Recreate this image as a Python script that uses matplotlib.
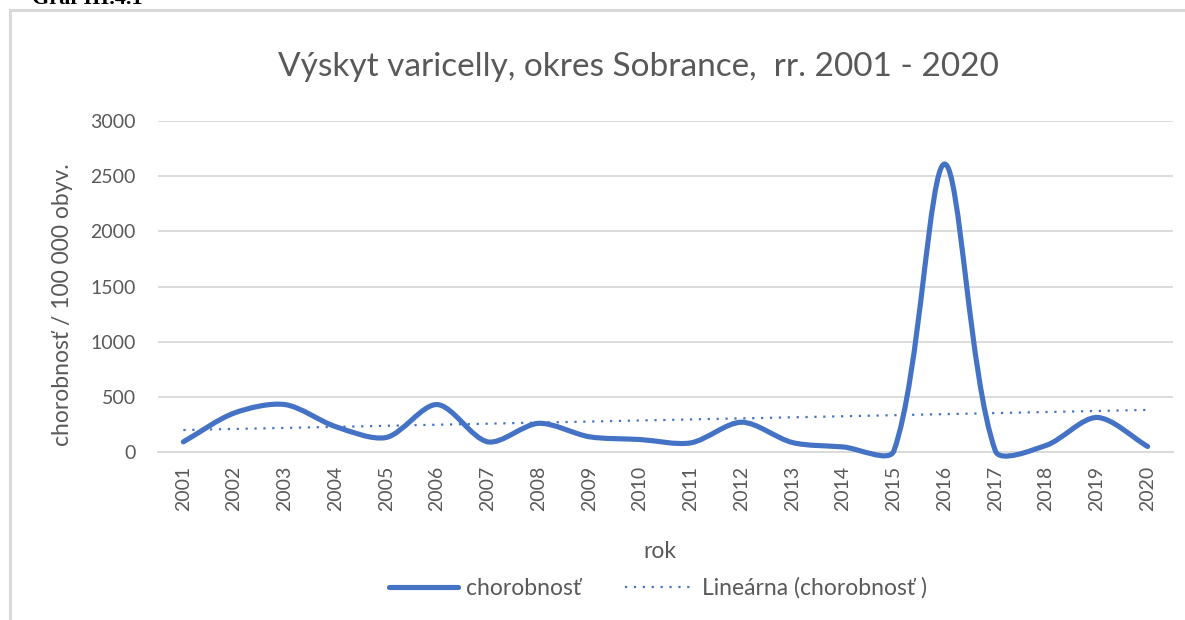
import matplotlib.pyplot as plt
import numpy as np
from matplotlib.path import Path
from matplotlib.patches import PathPatch
from matplotlib.lines import Line2D

years = [str(y) for y in range(2001, 2021)]
chorobnost = [92, 353, 430, 230, 132, 430, 92, 260, 138, 113,
              83, 270, 86, 46, 10, 2610, 10, 60, 313, 50]
y_ticks = [0, 500, 1000, 1500, 2000, 2500, 3000]

plt.rcParams['font.family'] = ['Lato', 'DejaVu Sans']
blue = '#4472C4'
gray = '#595959'

fig = plt.figure(figsize=(11.85, 6.2), dpi=100)
ax = fig.add_axes([158/1185, 1-452/620, 1015/1185, 331/620])

x = np.arange(len(years))
ax.set_xlim(-0.5, len(years) - 0.5)
ax.set_ylim(0, 3000)


def smooth_path(ax, xs, ys, k=0.3):
    # excel-like smoothed line, built in pixel space
    pts = ax.transData.transform(np.column_stack([xs, ys]))
    n = len(pts)
    verts = [pts[0]]
    codes = [Path.MOVETO]
    for i in range(n - 1):
        p0 = pts[i - 1] if i > 0 else pts[i]
        p1, p2 = pts[i], pts[i + 1]
        p3 = pts[i + 2] if i + 2 < n else pts[i + 1]
        d01 = np.hypot(*(p1 - p0))
        d12 = np.hypot(*(p2 - p1))
        d23 = np.hypot(*(p3 - p2))
        c1 = p1 + (p2 - p0) * k * d12 / (d01 + d12)
        c2 = p2 - (p3 - p1) * k * d12 / (d12 + d23)
        verts += [c1, c2, p2]
        codes += [Path.CURVE4] * 3
    inv = ax.transData.inverted()
    return Path(inv.transform(np.array(verts)), codes)


ax.add_patch(PathPatch(smooth_path(ax, x, chorobnost), fill=False,
                       edgecolor=blue, lw=3.7, capstyle='round',
                       joinstyle='round', clip_on=False, zorder=3))

coef = np.polyfit(x, chorobnost, 1)
trend = np.poly1d(coef)
ax.plot(x, trend(x), color=blue, lw=1.6, linestyle=(0, (1, 3)), zorder=2)

ax.set_yticks(y_ticks)
ax.set_xticks(x)
ax.set_xticklabels(years, rotation=90)
ax.tick_params(axis='both', length=0, labelsize=14, labelcolor=gray)
ax.tick_params(axis='y', pad=16)
ax.tick_params(axis='x', pad=10)
ax.grid(axis='y', color='#d9d9d9', lw=1.3)
ax.set_axisbelow(True)
for s in ['top', 'right', 'left']:
    ax.spines[s].set_visible(False)
ax.spines['bottom'].set_color('#d9d9d9')
ax.spines['bottom'].set_linewidth(1.3)

fig.text(638/1185, 1-67/620, 'Výskyt varicelly, okres Sobrance,  rr. 2001 - 2020',
         ha='center', va='center', fontsize=24, color=gray)
fig.text(63/1185, 1-305/620, 'chorobnosť / 100 000 obyv.', rotation=90,
         ha='center', va='center', fontsize=16.5, color=gray)
fig.text(660/1185, 1-551/620, 'rok', ha='center', va='center',
         fontsize=16.5, color=gray)

handles = [Line2D([], [], color=blue, lw=3.7, solid_capstyle='round'),
           Line2D([], [], color=blue, lw=1.6, linestyle=(0, (1, 3)))]
fig.legend(handles, ['chorobnosť', 'Lineárna (chorobnosť )'], ncol=2,
           loc='center', bbox_to_anchor=(658/1185, 1-588/620), frameon=False,
           fontsize=16.5, handlelength=3.0, handletextpad=0.35,
           columnspacing=1.9, labelcolor=gray)

# outer frame and cut-off caption
fig.add_artist(Line2D([10/1185, 10/1185], [0, 1-10/620], color='#d9d9d9', lw=2.2))
fig.add_artist(Line2D([10/1185, 1], [1-10/620, 1-10/620], color='#d9d9d9', lw=2.2))
fig.text(32/1185, 1-4/620, 'Graf III.4.1', fontsize=16, fontweight='bold',
         family=['Liberation Serif', 'DejaVu Serif'], va='baseline')

fig.savefig('out.png', dpi=100)
